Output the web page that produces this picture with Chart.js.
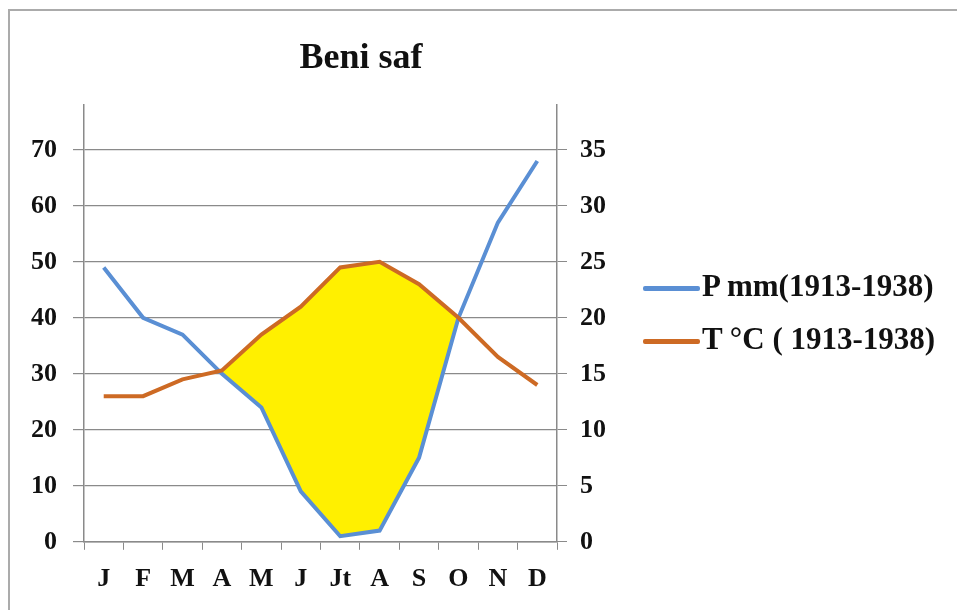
<!DOCTYPE html>
<html lang="fr">
<head>
  <meta charset="UTF-8">
  <title>Beni saf</title>
  <style>
    body { margin: 0; background: #fff; font-family: "Liberation Serif", serif; }
    .frame { position: absolute; left: 8px; top: 9px; width: 1000px; height: 700px; border: 2px solid #ababab; }
    .title { position: absolute; left: 261px; top: 38px; width: 200px; text-align: center; font-size: 36px; line-height: 1; font-weight: bold; color: #111; }
    canvas { position: absolute; left: 0; top: 0; }
    #legend { position: absolute; left: 643px; top: 259px; font-size: 31px; font-weight: bold; color: #111; }
    #legend .item { height: 53px; line-height: 53px; white-space: nowrap; }
    #legend .mark { display: inline-block; width: 57px; height: 5px; vertical-align: middle; margin-right: 2px; border-radius: 2px; }
  </style>
  <script src="https://cdn.jsdelivr.net/npm/chart.js"></script>
</head>
<body>
  <div class="frame"></div>
  <canvas id="climChart" width="957" height="610"></canvas>
  <div class="title">Beni saf</div>
  <div id="legend"></div>

  <script>
    const months = ['J', 'F', 'M', 'A', 'M', 'J', 'Jt', 'A', 'S', 'O', 'N', 'D'];
    const precip = [49, 40, 37, 30, 24, 9, 1, 2, 15, 40, 57, 68];        // P mm
    const temp = [13, 13, 14.5, 15.3, 18.5, 21, 24.5, 25, 23, 20, 16.5, 14]; // T °C
    const seriesNames = ['P mm(1913-1938)', 'T °C ( 1913-1938)'];
    const seriesColors = ['#5a8fd4', '#cd6a24'];

    const tickFont = { family: 'Liberation Serif', size: 26, weight: 'bold' };
    const axisGray = '#8a8a8a';

    const ctx = document.getElementById('climChart').getContext('2d');
    const chart = new Chart(ctx, {
      type: 'line',
      data: {
        labels: months,
        datasets: [
          {
            label: seriesNames[0],
            data: precip,
            yAxisID: 'y',
            borderColor: seriesColors[0],
            backgroundColor: seriesColors[0],
            borderWidth: 4,
            pointRadius: 0,
            tension: 0,
            order: 1,
            // yellow where rainfall is under 2*T (dry season)
            fill: { target: 1, above: 'rgba(0,0,0,0)', below: '#fff000' }
          },
          {
            label: seriesNames[1],
            data: temp,
            yAxisID: 'y1',
            borderColor: seriesColors[1],
            backgroundColor: seriesColors[1],
            borderWidth: 4,
            pointRadius: 0,
            tension: 0,
            order: 0,
            fill: false
          }
        ]
      },
      options: {
        responsive: false,
        animation: false,
        layout: { padding: { left: 15, right: 338, top: 105, bottom: 1 } },
        plugins: {
          title: { display: false },
          tooltip: { enabled: false },
          legend: { display: false }
        },
        scales: {
          x: {
            offset: true,
            grid: { offset: true, drawOnChartArea: false, drawTicks: true, tickLength: 8, color: axisGray },
            border: { color: axisGray, width: 1.5 },
            ticks: { color: '#111', font: tickFont, padding: 14, maxRotation: 0, autoSkip: false }
          },
          y: {
            position: 'left',
            min: 0,
            max: 78,
            grid: { color: axisGray, lineWidth: 1.2, tickLength: 11 },
            border: { color: axisGray, width: 1.5 },
            ticks: { stepSize: 10, includeBounds: false, color: '#111', font: tickFont, padding: 16 }
          },
          y1: {
            position: 'right',
            min: 0,
            max: 39,
            grid: { drawOnChartArea: false, tickLength: 10, color: axisGray },
            border: { color: axisGray, width: 1.5 },
            ticks: { stepSize: 5, includeBounds: false, color: '#111', font: tickFont, padding: 13 }
          }
        }
      }
    });

    // legend as html, the built-in one gets squeezed next to the right axis
    const legendBox = document.getElementById('legend');
    chart.data.datasets.forEach(ds => {
      const row = document.createElement('div');
      row.className = 'item';
      row.innerHTML = `<span class="mark" style="background:${ds.borderColor}"></span>${ds.label}`;
      legendBox.appendChild(row);
    });
  </script>
</body>
</html>
